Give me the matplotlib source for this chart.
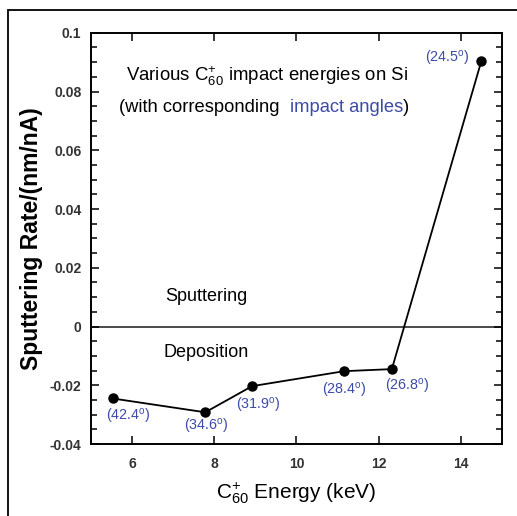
import matplotlib
matplotlib.use("Agg")
import matplotlib.pyplot as plt
from matplotlib.ticker import MultipleLocator, FuncFormatter
from matplotlib.patches import Rectangle

plt.rcParams['font.family'] = ['Liberation Sans', 'DejaVu Sans']
plt.rcParams['mathtext.fontset'] = 'custom'
plt.rcParams['mathtext.rm'] = 'Liberation Sans'
plt.rcParams['mathtext.it'] = 'Liberation Sans:italic'
plt.rcParams['mathtext.bf'] = 'Liberation Sans:bold'
plt.rcParams['mathtext.default'] = 'regular'

energy = [5.53, 7.78, 8.92, 11.16, 12.32, 14.5]
rate = [-0.0245, -0.0292, -0.0203, -0.0152, -0.0145, 0.0905]
angles = ["42.4", "34.6", "31.9", "28.4", "26.8", "24.5"]
# label offsets in points (dx, dy) relative to each point
label_offsets = [(11.5, -13), (0.7, -10.5), (4.3, -14), (0, -14), (11, -12.3), (-24.5, 1.5)]
xticks = [6, 8, 10, 12, 14]
yticks = [-0.04, -0.02, 0, 0.02, 0.04, 0.06, 0.08, 0.1]

blue = '#3d4aa8'

fig = plt.figure(figsize=(5.17, 5.16), dpi=100)
ax = fig.add_axes([0.176, 0.1395, 0.795, 0.797])

# outer frame
fig.patches.append(Rectangle((8 / 517, -0.1), 1.2, 1 - 10 / 516 + 0.1,
                             transform=fig.transFigure, fill=False,
                             edgecolor='black', linewidth=1.3))

ax.axhline(0, color='#4a4a4a', linewidth=1.4, zorder=1)
ax.plot(energy, rate, color='black', linewidth=1.3, marker='o',
        markersize=6.5, zorder=3)

for x, y, a, (dx, dy) in zip(energy, rate, angles, label_offsets):
    ax.annotate("(" + a + r"$^{\rm o}$)", (x, y), xytext=(dx, dy),
                textcoords='offset points', ha='center', va='center',
                color=blue, fontsize=10.3)

ax.set_xlim(5, 15)
ax.set_ylim(-0.04, 0.1)
ax.set_xticks(xticks)
ax.set_yticks(yticks)
ax.yaxis.set_minor_locator(MultipleLocator(0.005))

def yfmt(v, pos):
    if abs(v) < 1e-9:
        return "0"
    if abs(v - 0.1) < 1e-9:
        return "0.1"
    return "%.2f" % v

ax.yaxis.set_major_formatter(FuncFormatter(yfmt))
ax.tick_params(which='both', direction='in', top=True, right=True,
               width=1.1, labelsize=10)
ax.tick_params(which='major', length=6)
ax.tick_params(axis='y', which='major', pad=7)
ax.tick_params(axis='x', which='major', pad=9)
ax.tick_params(which='minor', length=4)
for lab in ax.get_xticklabels() + ax.get_yticklabels():
    lab.set_fontweight('bold')
    lab.set_color('#333333')
for s in ax.spines.values():
    s.set_linewidth(1.4)

ax.set_xlabel(r"C$_{60}^{+}$ Energy (keV)", fontsize=15, labelpad=7)
ax.set_ylabel("Sputtering Rate/(nm/nA)", fontsize=16.5, fontweight='bold',
              labelpad=5)

ax.text(0.428, 0.895, r"Various C$_{60}^{+}$ impact energies on Si",
        transform=ax.transAxes, ha='center', va='center', fontsize=13.4)
t1 = ax.text(0.068, 0.819, "(with corresponding  ", transform=ax.transAxes,
             ha='left', va='center', fontsize=13.2)
t2 = ax.annotate("impact angles", xy=(1, 0), xycoords=t1, ha='left',
                 va='bottom', fontsize=13.2, color=blue)
ax.annotate(")", xy=(1, 0), xycoords=t2, ha='left', va='bottom',
            fontsize=13.2, color='black')

ax.text(7.8, 0.0101, "Sputtering", ha='center', va='center', fontsize=13)
ax.text(7.8, -0.0090, "Deposition", ha='center', va='center', fontsize=13)

fig.savefig("out.png", dpi=100)
